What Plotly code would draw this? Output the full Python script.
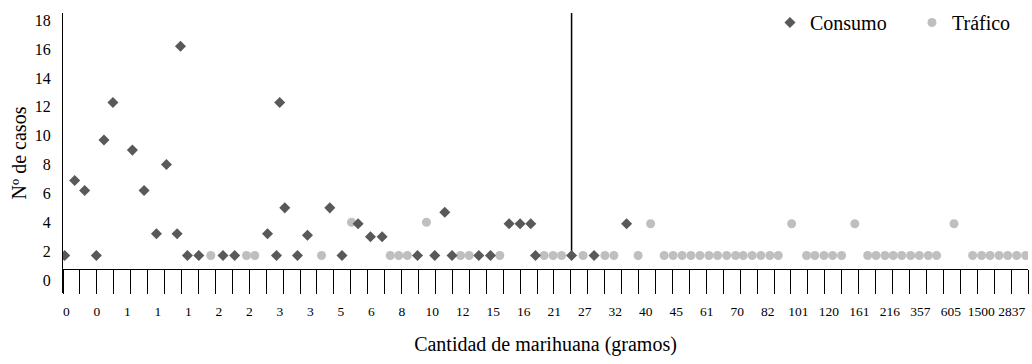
import numpy as np
import plotly.graph_objects as go

# posición a lo largo del eje (1 unidad = 1 marca del eje) y nº de casos
consumo_pos = [0.10, 0.69, 1.28, 1.97, 2.42, 2.95, 4.10, 4.79, 5.52, 6.11,
               6.74, 6.94, 7.35, 8.02, 9.45, 10.14, 12.08, 12.61, 12.80, 13.10,
               13.85, 14.44, 15.76, 16.48, 17.43, 18.16, 18.85, 20.94, 21.96, 22.55,
               22.98, 24.56, 25.25, 26.35, 27.00, 27.63, 27.91, 30.04, 31.37, 33.29]
consumo_casos = [1.7, 6.9, 6.2, 1.7, 9.7, 12.3, 9.0, 6.2, 3.2, 8.0,
                 3.2, 16.2, 1.7, 1.7, 1.7, 1.7, 3.2, 1.7, 12.3, 5.0,
                 1.7, 3.1, 5.0, 1.7, 3.9, 3.0, 3.0, 1.7, 1.7, 4.7,
                 1.7, 1.7, 1.7, 3.9, 3.9, 3.9, 1.7, 1.7, 1.7, 3.9]

trafico_pos = [8.73, 10.84, 11.33, 15.27, 17.04, 19.33, 19.83, 20.34, 21.47, 23.48,
               23.99, 25.80, 28.42, 28.95, 29.45, 30.72, 32.01, 32.54, 33.97, 34.71,
               35.51, 36.04, 36.57, 37.09, 37.62, 38.15, 38.66, 39.20, 39.73, 40.18,
               40.71, 41.22, 41.75, 42.25, 43.04, 43.92, 44.41, 44.95, 45.46, 45.99,
               46.77, 47.53, 48.02, 48.55, 49.04, 49.54, 50.07, 50.58, 51.11, 51.60,
               52.63, 53.73, 54.26, 54.76, 55.29, 55.80, 56.33, 56.86]
trafico_casos = [1.7, 1.7, 1.7, 1.7, 4.0, 1.7, 1.7, 1.7, 4.0, 1.7,
                 1.7, 1.7, 1.7, 1.7, 1.7, 1.7, 1.7, 1.7, 1.7, 3.9,
                 1.7, 1.7, 1.7, 1.7, 1.7, 1.7, 1.7, 1.7, 1.7, 1.7,
                 1.7, 1.7, 1.7, 1.7, 3.9, 1.7, 1.7, 1.7, 1.7, 1.7,
                 3.9, 1.7, 1.7, 1.7, 1.7, 1.7, 1.7, 1.7, 1.7, 1.7,
                 3.9, 1.7, 1.7, 1.7, 1.7, 1.7, 1.7, 1.7]

gramos = ['0', '0', '1', '1', '1', '2', '2', '3', '3', '5', '6', '8', '10', '12', '15', '16',
          '21', '27', '32', '40', '45', '61', '70', '82', '101', '120', '161', '216', '357',
          '605', '1500', '2837']

corte = 30.04  # línea vertical de referencia
n_marcas = 57

fuente = 'Liberation Serif'

fig = go.Figure()
fig.add_trace(go.Scatter(x=trafico_pos, y=trafico_casos, mode='markers', name='Tráfico',
                         xaxis='x', marker=dict(symbol='circle', size=9, color='#BFBFBF')))
fig.add_trace(go.Scatter(x=consumo_pos, y=consumo_casos, mode='markers', name='Consumo',
                         xaxis='x2', marker=dict(symbol='diamond', size=8.5, color='#595959')))

fig.add_shape(type='line', xref='x2', yref='y', x0=corte, x1=corte, y0=1.7, y1=18.6,
              line=dict(color='black', width=1.5), layer='below')

rango_y = [-0.9, 18.5]
pos_eje = (0.76 - rango_y[0]) / (rango_y[1] - rango_y[0])

fig.update_layout(
    width=1032, height=364,
    margin=dict(l=63, r=4, t=13, b=71, autoexpand=False),
    paper_bgcolor='white', plot_bgcolor='white',
    font=dict(family=fuente, color='black'),
    showlegend=True,
    legend=dict(orientation='h', x=0.7326, xanchor='left', y=0.966, yanchor='middle',
                font=dict(size=20, family=fuente), traceorder='reversed',
                entrywidth=97, entrywidthmode='pixels', bgcolor='rgba(0,0,0,0)'),
    xaxis=dict(range=[0, n_marcas], tickmode='array', automargin=False,
               tickvals=list(np.linspace(0.2, 56.04, len(gramos))), ticktext=gramos,
               ticks='', showline=False, showgrid=False, zeroline=False, tickangle=0,
               tickfont=dict(size=13.5), ticklabelstandoff=8,
               title=dict(text='Cantidad de marihuana (gramos)', font=dict(size=20), standoff=19)),
    xaxis2=dict(range=[0, n_marcas], overlaying='x', anchor='free', position=pos_eje,
                tickmode='array', tickvals=list(range(n_marcas + 1)), showticklabels=False,
                ticks='outside', ticklen=24, tickwidth=1, tickcolor='black', automargin=False,
                showline=True, linecolor='black', linewidth=1,
                showgrid=False, zeroline=False),
    yaxis=dict(range=rango_y, tickmode='array', tickvals=list(range(0, 19, 2)), automargin=False,
               showline=True, linecolor='black', linewidth=1, ticks='',
               showgrid=False, zeroline=False, tickfont=dict(size=16), ticklabelstandoff=8,
               title=dict(text='Nº de casos', font=dict(size=20), standoff=2)),
)

# sin el margen por defecto del <body> y sin barra de herramientas
fig.write_html("out.html", config={'displayModeBar': False},
               post_script="document.body.style.margin='0';")
